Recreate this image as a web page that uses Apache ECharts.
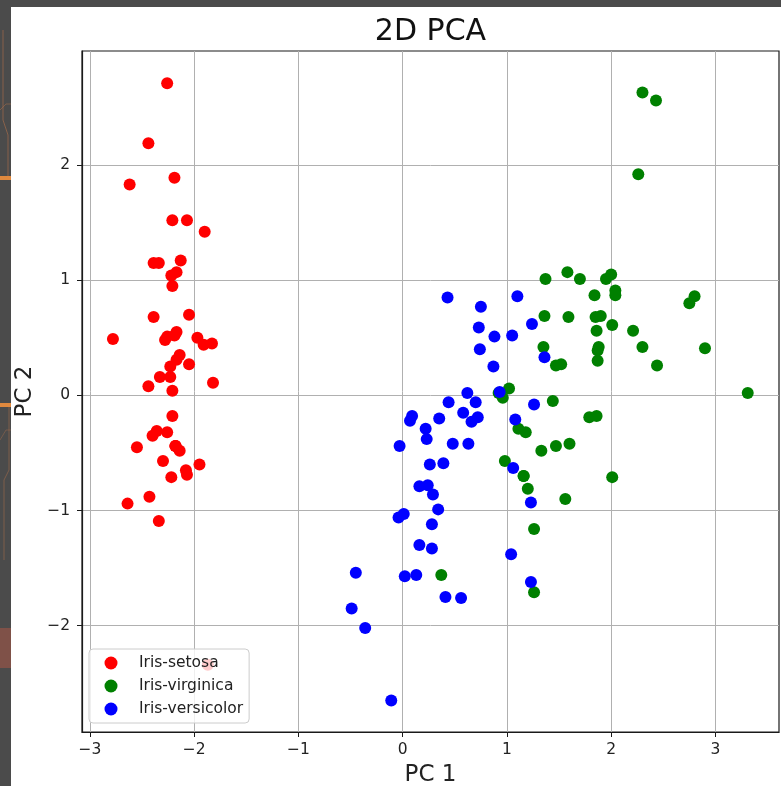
<!DOCTYPE html>
<html>
<head>
<meta charset="utf-8">
<title>2D PCA</title>
<script src="https://cdn.jsdelivr.net/npm/echarts@6/dist/echarts.min.js"></script>
<style>
  html, body { margin: 0; padding: 0; background: #ffffff; }
  #chart { width: 781px; height: 786px; }
</style>
</head>
<body>
<div id="chart"></div>
<script>
// Projection of the iris measurements onto the first two principal components.
const speciesNames = ['Iris-setosa', 'Iris-virginica', 'Iris-versicolor'];
const speciesColors = ['#ff0000', '#008000', '#0000ff'];

// [PC 1, PC 2] per flower
const setosa = [
  [-2.26, 0.51], [-2.08, -0.65], [-2.36, -0.31], [-2.30, -0.57], [-2.39, 0.68],
  [-2.07, 1.52], [-2.44, 0.08], [-2.23, 0.25], [-2.34, -1.09], [-2.18, -0.44],
  [-2.17, 1.07], [-2.33, 0.16], [-2.22, -0.71], [-2.64, -0.94], [-2.19, 1.89],
  [-2.26, 2.71], [-2.21, 1.52], [-2.19, 0.52], [-1.90, 1.42], [-2.34, 1.15],
  [-1.91, 0.44], [-2.21, 0.95], [-2.78, 0.49], [-1.82, 0.11], [-2.23, 0.16],
  [-1.95, -0.60], [-2.05, 0.27], [-2.17, 0.55], [-2.14, 0.35], [-2.26, -0.32],
  [-2.14, -0.48], [-1.83, 0.45], [-2.62, 1.83], [-2.44, 2.19], [-2.18, -0.44],
  [-2.21, -0.18], [-2.05, 0.70], [-2.18, -0.44], [-2.43, -0.88], [-2.17, 0.31],
  [-2.28, 0.48], [-1.87, -2.34], [-2.55, -0.45], [-1.97, 0.50], [-2.13, 1.17],
  [-2.07, -0.69], [-2.39, 1.15], [-2.40, -0.35], [-2.22, 1.04], [-2.21, 0.04]
];

const virginica = [
  [1.84, 0.87], [1.16, -0.70], [2.21, 0.56], [1.44, -0.05], [1.87, 0.30],
  [2.75, 0.80], [0.37, -1.56], [2.30, 0.42], [2.01, -0.71], [2.26, 1.92],
  [1.36, 0.69], [1.60, -0.42], [1.88, 0.42], [1.26, -1.16], [1.47, -0.44],
  [1.59, 0.68], [1.47, 0.26], [2.43, 2.56], [3.31, 0.02], [1.26, -1.71],
  [2.04, 0.91], [0.98, -0.57], [2.90, 0.41], [1.33, -0.48], [1.70, 1.01],
  [1.95, 1.01], [1.18, -0.32], [1.02, 0.06], [1.79, -0.19], [1.86, 0.56],
  [2.44, 0.26], [2.30, 2.63], [1.86, -0.18], [1.11, -0.29], [1.20, -0.81],
  [2.80, 0.86], [1.58, 1.07], [1.35, 0.42], [0.92, 0.02], [1.85, 0.68],
  [2.01, 0.61], [1.90, 0.69], [1.16, -0.70], [2.04, 0.87], [2.00, 1.05],
  [1.87, 0.39], [1.56, -0.90], [1.52, 0.27], [1.37, 1.01], [0.96, -0.02]
];

const versicolor = [
  [1.10, 0.86], [0.73, 0.59], [1.24, 0.62], [0.41, -1.75], [1.08, -0.21],
  [0.39, -0.59], [0.75, 0.77], [-0.49, -1.85], [0.93, 0.03], [0.01, -1.03],
  [-0.11, -2.65], [0.44, -0.06], [0.56, -1.76], [0.72, -0.19], [-0.03, -0.44],
  [0.88, 0.51], [0.35, -0.20], [0.16, -0.79], [1.23, -1.62], [0.16, -1.30],
  [0.74, 0.40], [0.48, -0.42], [1.23, -0.93], [0.63, -0.42], [0.70, -0.06],
  [0.87, 0.25], [1.26, -0.08], [1.36, 0.33], [0.66, -0.23], [-0.04, -1.06],
  [0.13, -1.56], [0.02, -1.57], [0.24, -0.78], [1.06, -0.63], [0.22, -0.29],
  [0.43, 0.85], [1.05, 0.52], [1.04, -1.38], [0.07, -0.22], [0.28, -1.33],
  [0.28, -1.12], [0.62, 0.02], [0.34, -0.99], [-0.36, -2.02], [0.29, -0.86],
  [0.09, -0.18], [0.23, -0.38], [0.58, -0.15], [-0.45, -1.54], [0.26, -0.60]
];

const xTicks = [-3, -2, -1, 0, 1, 2, 3];
const yTicks = [-2, -1, 0, 1, 2];
const xRange = [-3.077, 3.61];
const yRange = [-2.923, 2.99];

const FONT = 'DejaVu Sans';
const minusSign = v => String(v).replace('-', '\u2212');

const chart = echarts.init(document.getElementById('chart'), null, { renderer: 'canvas' });

function valueAxis(range, ticks, labelMargin, extra) {
  return Object.assign({
    type: 'value',
    min: range[0],
    max: range[1],
    axisLine: { show: true, onZero: false, lineStyle: { color: '#1a1a1a', width: 1.2 } },
    axisTick: { show: true, length: 5, customValues: ticks, lineStyle: { color: '#1a1a1a', width: 1 } },
    axisLabel: {
      customValues: ticks,
      formatter: minusSign,
      fontFamily: FONT,
      fontSize: 15.5,
      color: '#222',
      margin: labelMargin
    },
    splitLine: { show: true, lineStyle: { color: '#b0b0b0', width: 1 } },
    nameLocation: 'middle',
    nameTextStyle: { fontFamily: FONT, fontSize: 23, color: '#222' }
  }, extra);
}

const option = {
  backgroundColor: '#ffffff',
  animation: false,
  graphic: [
    // dark frame around the figure
    { type: 'rect', z: 100, shape: { x: 0, y: 0, width: 781, height: 7 }, style: { fill: '#4b4b4b' } },
    { type: 'rect', z: 100, shape: { x: 0, y: 0, width: 11, height: 786 }, style: { fill: '#4b4b4b' } },
    { type: 'rect', z: 101, shape: { x: 0, y: 176, width: 11, height: 4 }, style: { fill: '#e0893e' } },
    { type: 'rect', z: 101, shape: { x: 0, y: 403, width: 11, height: 4 }, style: { fill: '#e0893e' } },
    { type: 'rect', z: 101, shape: { x: 0, y: 628, width: 11, height: 40 }, style: { fill: '#8c5347', opacity: 0.8 } },
    { type: 'polyline', z: 101, shape: { points: [[3, 30], [3, 120], [8, 135], [8, 176]] }, style: { stroke: '#b0704a', lineWidth: 1, fill: null, opacity: 0.6 } },
    { type: 'polyline', z: 101, shape: { points: [[0, 110], [6, 104], [11, 104]] }, style: { stroke: '#b0704a', lineWidth: 1, fill: null, opacity: 0.5 } },
    { type: 'polyline', z: 101, shape: { points: [[9, 407], [9, 470], [4, 480], [4, 560]] }, style: { stroke: '#b0704a', lineWidth: 1, fill: null, opacity: 0.5 } },
    { type: 'polyline', z: 101, shape: { points: [[0, 440], [6, 430], [11, 430]] }, style: { stroke: '#b0704a', lineWidth: 1, fill: null, opacity: 0.4 } },
    // figure title, centred over the plotting area
    {
      type: 'text', z: 101, x: 430.5, y: 32,
      style: { text: '2D PCA', fontFamily: FONT, fontSize: 30, fill: '#111', textAlign: 'center', textVerticalAlign: 'middle' }
    }
  ],
  grid: {
    left: 82, right: 2, top: 51, bottom: 54,
    show: true, borderColor: '#1a1a1a', borderWidth: 1.2, backgroundColor: '#ffffff',
    containLabel: false,
    outerBoundsMode: 'none'
  },
  xAxis: valueAxis(xRange, xTicks, 10, { name: 'PC 1', nameGap: 32 }),
  yAxis: valueAxis(yRange, yTicks, 12, { name: 'PC 2', nameGap: 45 }),
  legend: {
    orient: 'vertical',
    left: 89,
    top: 649,
    padding: [5, 6, 5, 15.5],
    itemGap: 5,
    itemWidth: 13,
    itemHeight: 13,
    icon: 'circle',
    backgroundColor: 'rgba(255,255,255,0.8)',
    borderColor: '#cccccc',
    borderWidth: 1,
    borderRadius: 4,
    textStyle: { fontFamily: FONT, fontSize: 15.5, color: '#222', lineHeight: 18, padding: [0, 0, 0, 16.5] },
    data: speciesNames,
    z: 50
  },
  series: [setosa, virginica, versicolor].map((pts, i) => ({
    name: speciesNames[i],
    type: 'scatter',
    data: pts,
    symbol: 'circle',
    symbolSize: 12,
    itemStyle: { color: speciesColors[i], opacity: 1 },
    emphasis: { disabled: true }
  }))
};

chart.setOption(option);
</script>
</body>
</html>
